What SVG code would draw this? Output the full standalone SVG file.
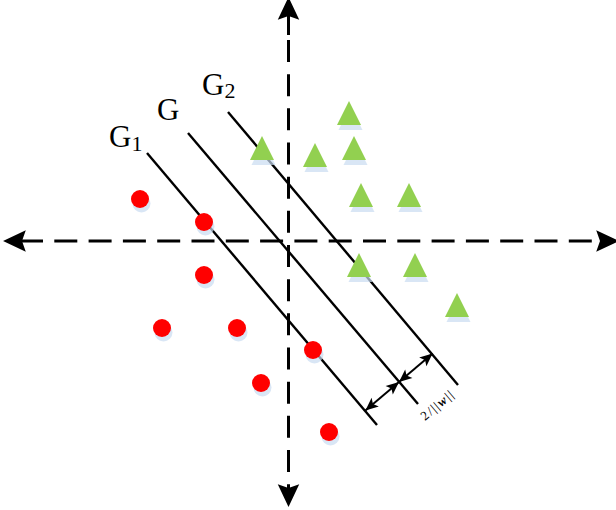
<svg xmlns="http://www.w3.org/2000/svg" width="616" height="510" viewBox="0 0 616 510">
<style>
.axis{fill:none;stroke:#000;stroke-width:3}
.sep{fill:none;stroke:#000;stroke-width:2.4}
.dim{fill:none;stroke:#000;stroke-width:2}
.lbl{font-family:"Liberation Serif","Times New Roman",serif;fill:#000}
.red{fill:#ff0000}
.grn{fill:#92d050}
.shd{fill:#c9dcf1;opacity:0.7}
</style>
<defs>
<marker id="ax" markerUnits="userSpaceOnUse" markerWidth="24" markerHeight="24" refX="3" refY="0" viewBox="0 -9 19 18" orient="auto-start-reverse" overflow="visible">
<path d="M0,-8.5 L18,0 L0,8.5 L3,0 Z" fill="#000"/>
</marker>
<marker id="dm" markerUnits="userSpaceOnUse" markerWidth="14" markerHeight="14" refX="11" refY="0" viewBox="0 -5 12 10" orient="auto-start-reverse" overflow="visible">
<path d="M0,-4.8 L11,0 L0,4.8 L2.5,0 Z" fill="#000"/>
</marker>
<path id="tri" d="M0,0 L12,24 L-12,24 Z"/>
<circle id="dot" r="9"/>
</defs>
<g id="connectors">
<path class="axis" d="M22,241 H600" stroke-dasharray="23 11.3" stroke-dashoffset="2" marker-start="url(#ax)" marker-end="url(#ax)"/>
<path class="axis" d="M288.5,16 V35" marker-start="url(#ax)"/>
<path class="axis" d="M288.5,40 V488" stroke-dasharray="22 12.17" marker-end="url(#ax)"/>
<path class="sep" d="M147,153 L377,425"/>
<path class="sep" d="M188,133 L418,404"/>
<path class="sep" d="M228,112 L458,385"/>
<path class="dim" d="M365.4,410.4 L399,382" marker-start="url(#dm)" marker-end="url(#dm)"/>
<path class="dim" d="M399,382 L432.6,353.6" marker-start="url(#dm)" marker-end="url(#dm)"/>
</g>
<g id="label-G1"><text class="lbl" x="109" y="147" font-size="31">G<tspan font-size="22" dy="4">1</tspan></text></g>
<g id="label-G"><text class="lbl" x="157" y="120" font-size="31">G</text></g>
<g id="label-G2"><text class="lbl" x="202" y="95" font-size="31">G<tspan font-size="22" dy="3">2</tspan></text></g>
<g id="label-margin" transform="translate(425 421) rotate(-40)"><text class="lbl" x="0" y="0" font-size="13" letter-spacing="1.5">2/||<tspan font-style="italic" font-weight="bold">w</tspan>||</text></g>
<g id="neg-1"><use href="#dot" class="shd" x="141.5" y="203.5"/><use href="#dot" class="red" x="140" y="199"/></g>
<g id="neg-2"><use href="#dot" class="shd" x="205.5" y="226.5"/><use href="#dot" class="red" x="204" y="222"/></g>
<g id="neg-3"><use href="#dot" class="shd" x="205.5" y="279.5"/><use href="#dot" class="red" x="204" y="275"/></g>
<g id="neg-4"><use href="#dot" class="shd" x="163.5" y="332.5"/><use href="#dot" class="red" x="162" y="328"/></g>
<g id="neg-5"><use href="#dot" class="shd" x="238.5" y="332.5"/><use href="#dot" class="red" x="237" y="328"/></g>
<g id="neg-6"><use href="#dot" class="shd" x="314.5" y="354.5"/><use href="#dot" class="red" x="313" y="350"/></g>
<g id="neg-7"><use href="#dot" class="shd" x="262.5" y="387.5"/><use href="#dot" class="red" x="261" y="383"/></g>
<g id="neg-8"><use href="#dot" class="shd" x="330.5" y="436.5"/><use href="#dot" class="red" x="329" y="432"/></g>
<g id="pos-1"><use href="#tri" class="shd" x="350.5" y="106"/><use href="#tri" class="grn" x="349" y="101"/></g>
<g id="pos-2"><use href="#tri" class="shd" x="263.5" y="141"/><use href="#tri" class="grn" x="262" y="136"/></g>
<g id="pos-3"><use href="#tri" class="shd" x="316.5" y="148"/><use href="#tri" class="grn" x="315" y="143"/></g>
<g id="pos-4"><use href="#tri" class="shd" x="355.5" y="141"/><use href="#tri" class="grn" x="354" y="136"/></g>
<g id="pos-5"><use href="#tri" class="shd" x="362.5" y="188"/><use href="#tri" class="grn" x="361" y="183"/></g>
<g id="pos-6"><use href="#tri" class="shd" x="410.5" y="188"/><use href="#tri" class="grn" x="409" y="183"/></g>
<g id="pos-7"><use href="#tri" class="shd" x="360.5" y="258"/><use href="#tri" class="grn" x="359" y="253"/></g>
<g id="pos-8"><use href="#tri" class="shd" x="416.5" y="258"/><use href="#tri" class="grn" x="415" y="253"/></g>
<g id="pos-9"><use href="#tri" class="shd" x="458.5" y="298"/><use href="#tri" class="grn" x="457" y="293"/></g>
</svg>
